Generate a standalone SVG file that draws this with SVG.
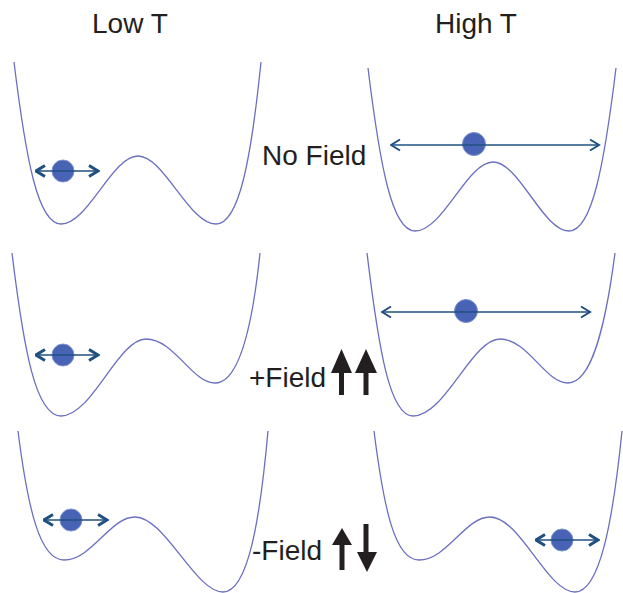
<svg xmlns="http://www.w3.org/2000/svg" width="623" height="593" viewBox="0 0 623 593">
<style>
.well{fill:none;stroke:#6b6fc2;stroke-width:1.3}
.ball{fill:#4862b6;stroke:#7f93cf;stroke-width:1}
.lbl{font-family:"Liberation Sans",Arial,sans-serif;font-size:28px;fill:#231f20}
.osc{stroke:#1f5080;stroke-width:1.5;fill:none}
.s{marker-start:url(#chevS);marker-end:url(#chevS)}
.b{marker-start:url(#chevB);marker-end:url(#chevB)}
.fa{fill:#231f20}
</style>
<defs>
<marker id="chevS" markerUnits="userSpaceOnUse" viewBox="0 0 12 14" refX="10.5" refY="7" markerWidth="12" markerHeight="14" orient="auto-start-reverse">
<path d="M1.5,1.5 L10.5,7 L1.5,12.5" fill="none" stroke="#1f5080" stroke-width="3"/>
</marker>
<marker id="chevB" markerUnits="userSpaceOnUse" viewBox="0 0 12 14" refX="10.5" refY="7" markerWidth="12" markerHeight="14" orient="auto-start-reverse">
<path d="M1.5,1.5 L10.5,7 L1.5,12.5" fill="none" stroke="#1f5080" stroke-width="2"/>
</marker>
</defs>
<rect width="623" height="593" fill="#ffffff"/>

<g id="labels">
<text class="lbl" x="92" y="33">Low T</text>
<text class="lbl" x="435" y="33">High T</text>
<text class="lbl" x="262" y="165">No Field</text>
<text class="lbl" x="249" y="387">+Field</text>
<text class="lbl" x="252" y="560">-Field</text>
</g>

<g id="panel-lowT-nofield">
<path class="well" d="M14,62 C26,160 38,224 61,224 C88,224 112,156 138,156 C164,156 189,224 216,224 C239,224 251,160 261,62"/>
<circle class="ball" cx="63" cy="171" r="11"/>
</g>
<g id="panel-highT-nofield">
<path class="well" d="M368,68 C380,166 392,231 415,231 C443,231 467,162 493,162 C519,162 543,231 569,231 C592,231 604,166 616,68"/>
<circle class="ball" cx="474" cy="144" r="11.5"/>
</g>
<g id="panel-lowT-plusfield">
<path class="well" d="M12,253 C24,352 36,416 61,416 C92,416 118,339 146,339 C174,339 192,383 215,383 C238,383 252,330 260,253"/>
<circle class="ball" cx="63" cy="355" r="11"/>
</g>
<g id="panel-highT-plusfield">
<path class="well" d="M367,253 C379,352 390,416 413,416 C445,416 472,339 500,339 C528,339 545,383 568,383 C591,383 605,330 615,253"/>
<circle class="ball" cx="466" cy="311" r="11.5"/>
</g>
<g id="panel-lowT-minusfield">
<path class="well" d="M18,431 C28,510 40,560 64,560 C92,560 110,517 135,517 C165,517 195,592 223,592 C248,592 260,520 268,431"/>
<circle class="ball" cx="71" cy="520" r="11"/>
</g>
<g id="panel-highT-minusfield">
<path class="well" d="M374,431 C384,510 395,560 419,560 C447,560 465,517 490,517 C520,517 547,592 575,592 C600,592 613,520 622,431"/>
<circle class="ball" cx="562" cy="540" r="11"/>
</g>

<g id="connectors">
<line class="osc s" x1="36" y1="171" x2="98" y2="171"/>
<line class="osc b" x1="391" y1="145" x2="599" y2="145"/>
<line class="osc s" x1="36" y1="355" x2="98" y2="355"/>
<line class="osc b" x1="382" y1="312" x2="590" y2="312"/>
<line class="osc s" x1="44" y1="520" x2="107" y2="520"/>
<line class="osc s" x1="536" y1="540" x2="598" y2="540"/>
</g>

<g id="field-arrows">
<path class="fa" d="M341.5,349 L352,373 L344,373 L344,395 L339,395 L339,373 L331,373 Z"/>
<path class="fa" d="M366,349 L377,373 L368.5,373 L368.5,395 L363.5,395 L363.5,373 L355,373 Z"/>
<path class="fa" d="M342,528 L352,545 L344.5,545 L344.5,570 L339.5,570 L339.5,545 L332,545 Z"/>
<path class="fa" d="M367,572 L377,552 L368.5,552 L368.5,524 L363.5,524 L363.5,552 L357,552 Z"/>
</g>
</svg>
